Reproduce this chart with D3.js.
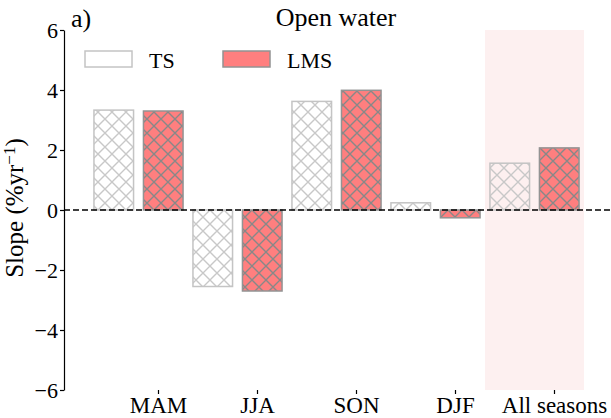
<!DOCTYPE html>
<html>
<head>
<meta charset="utf-8">
<script src="https://cdn.jsdelivr.net/npm/d3@7"></script>
<style>
  body { margin: 0; background: #fff; }
  svg { display: block; }
  text { font-family: "Liberation Serif", "Times New Roman", serif; fill: #000; }
</style>
</head>
<body>
<svg id="chart" width="611" height="418"></svg>
<script>
// ---- data ----
const categories = ["MAM", "JJA", "SON", "DJF", "All seasons"];
const seriesNames = ["TS", "LMS"];
const tsValues = [3.33, -2.55, 3.62, 0.24, 1.56];
const lmsValues = [3.30, -2.70, 3.99, -0.26, 2.07];
const yTicks = [-6, -4, -2, 0, 2, 4, 6];
const highlighted = ["All seasons"];
const titleText = "Open water";
const panelLabel = "a)";

const svg = d3.select("#chart");

const plotTop = 30, plotBottom = 390, plotLeft = 64, plotRight = 610;

const y = d3.scaleLinear().domain([-6, 6]).range([plotBottom, plotTop]);
const x = d3.scaleBand().domain(categories).range([89, 584]).paddingInner(0).paddingOuter(0);
const xInner = d3.scaleBand().domain(seriesNames).range([0, x.bandwidth()]).paddingInner(0.2).paddingOuter(0.1);
const xTick = d3.scalePoint().domain(categories).range([158, 554]);

const styles = {
  TS:  { fill: "none", stroke: "#c4c4c4", hatch: "#c8c8c8", legendFill: "#ffffff" },
  LMS: { fill: "#ff7f7f", stroke: "#939393", hatch: "#888888", legendFill: "#ff7f7f" }
};

// hatch patterns
const defs = svg.append("defs");
const hs = 14;
seriesNames.forEach(s => {
  const p = defs.append("pattern")
    .attr("id", "hatch-" + s)
    .attr("patternUnits", "userSpaceOnUse")
    .attr("width", hs).attr("height", hs);
  p.append("path")
    .attr("d", `M-1,-1 L${hs+1},${hs+1} M-1,${hs+1} L${hs+1},-1`)
    .attr("stroke", styles[s].hatch)
    .attr("stroke-width", 1.4)
    .attr("fill", "none");
});

// shaded region
svg.append("g").selectAll("rect")
  .data(highlighted).join("rect")
  .attr("x", d => x(d))
  .attr("width", x.bandwidth())
  .attr("y", plotTop)
  .attr("height", plotBottom - plotTop)
  .attr("fill", "#fdf0f0");

// bars
const rows = categories.map((c, i) => ({ cat: c, TS: tsValues[i], LMS: lmsValues[i] }));
const barsG = svg.append("g");
seriesNames.forEach(s => {
  const g = barsG.append("g");
  const sel = g.selectAll("g").data(rows).join("g");
  const rx = d => x(d.cat) + xInner(s);
  const ry = d => y(Math.max(0, d[s]));
  const rh = d => Math.abs(y(d[s]) - y(0));
  sel.append("rect")
    .attr("x", rx).attr("y", ry)
    .attr("width", xInner.bandwidth()).attr("height", rh)
    .attr("fill", styles[s].fill);
  sel.append("rect")
    .attr("x", rx).attr("y", ry)
    .attr("width", xInner.bandwidth()).attr("height", rh)
    .attr("fill", `url(#hatch-${s})`)
    .attr("stroke", styles[s].stroke)
    .attr("stroke-width", 1.5);
});

// zero line
svg.append("line")
  .attr("x1", plotLeft).attr("x2", plotRight)
  .attr("y1", y(0)).attr("y2", y(0))
  .attr("stroke", "#000")
  .attr("stroke-width", 1.3)
  .attr("stroke-dasharray", "6,3");

// y axis
const yAxis = svg.append("g")
  .attr("transform", `translate(${plotLeft},0)`)
  .call(d3.axisLeft(y).tickValues(yTicks).tickSize(4).tickSizeOuter(0).tickPadding(2));
yAxis.select(".domain").attr("stroke", "#000").attr("stroke-width", 1.2);
yAxis.selectAll(".tick line").attr("stroke", "#000").attr("stroke-width", 1.2);
yAxis.selectAll(".tick text").style("font-size", "22px").style("font-family", "Liberation Serif");

// x axis
const xAxis = svg.append("g")
  .attr("transform", `translate(0,${plotBottom})`)
  .call(d3.axisBottom(xTick).tickSize(4).tickPadding(3));
xAxis.select(".domain").remove();
xAxis.selectAll(".tick line").attr("stroke", "#000").attr("stroke-width", 1.2);
xAxis.selectAll(".tick text").style("font-size", "23px").style("font-family", "Liberation Serif");

// title & panel label
svg.append("text").attr("x", 336).attr("y", 26)
  .attr("text-anchor", "middle").style("font-size", "26px").text(titleText);
svg.append("text").attr("x", 71).attr("y", 27)
  .style("font-size", "26px").text(panelLabel);

// y label
const yl = svg.append("text")
  .attr("transform", "translate(23,208) rotate(-90)")
  .attr("text-anchor", "middle")
  .style("font-size", "25px");
yl.append("tspan").text("Slope (%yr");
yl.append("tspan").attr("dy", -8).style("font-size", "17px").text("−1");
yl.append("tspan").attr("dy", 8).text(")");

// legend
const legendX = [85, 223];
const leg = svg.append("g");
seriesNames.forEach((s, i) => {
  leg.append("rect")
    .attr("x", legendX[i]).attr("y", 51)
    .attr("width", 47).attr("height", 16)
    .attr("fill", styles[s].legendFill)
    .attr("stroke", styles[s].stroke)
    .attr("stroke-width", 1.5);
  leg.append("text")
    .attr("x", legendX[i] + 64).attr("y", 67.5)
    .style("font-size", "22px")
    .text(s);
});
</script>
</body>
</html>
